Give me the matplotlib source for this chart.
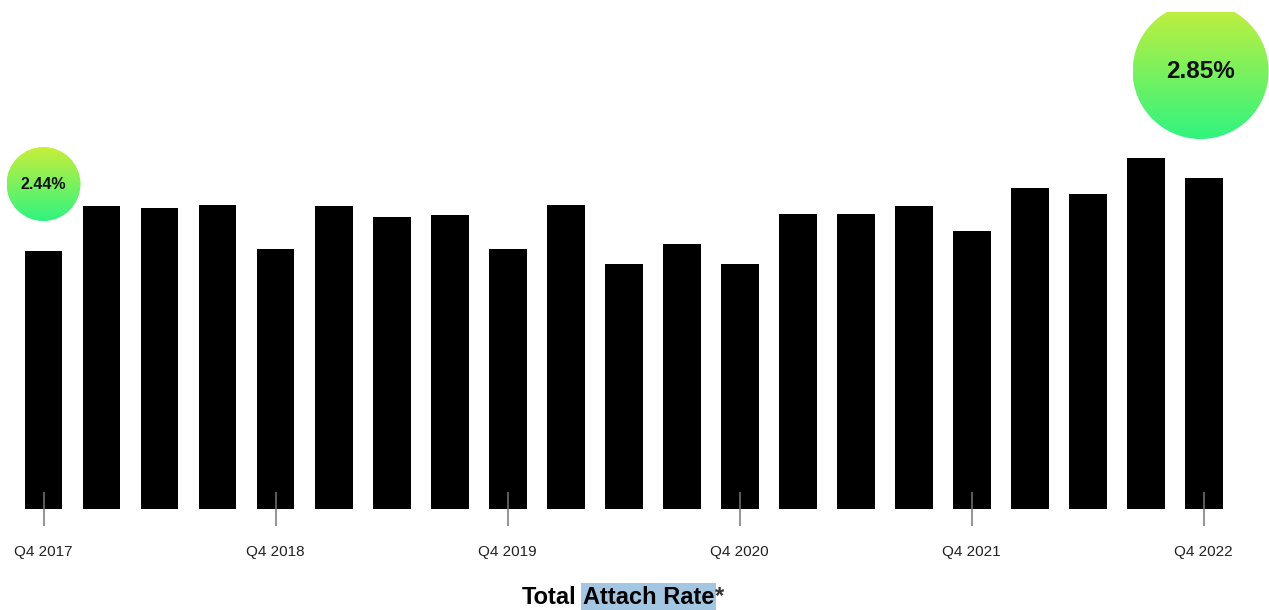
import numpy as np
import matplotlib
matplotlib.use("Agg")
import matplotlib.pyplot as plt
from matplotlib.patches import Circle

plt.rcParams['font.family'] = ['Liberation Sans', 'DejaVu Sans']

quarters = [f"Q{q} {y}" for y, q in
            [(2017, 4)] + [(y, q) for y in range(2018, 2022 + 1) for q in (1, 2, 3, 4)]]
attach_rate = [2.44, 2.69, 2.68, 2.70, 2.45, 2.69, 2.63, 2.64, 2.45, 2.70, 2.37,
               2.48, 2.37, 2.65, 2.65, 2.69, 2.55, 2.79, 2.76, 2.96, 2.85]
highlight_idx = [0, 20]
highlight_labels = ["2.44%", "2.85%"]
title_parts = ["Total", "Attach Rate", "*"]

W, H = 1269, 610
fig = plt.figure(figsize=(W / 100, H / 100), dpi=100)
ax_pos = [0, 101 / H, 1, 497 / H]
ax = fig.add_axes(ax_pos)

x = np.arange(len(quarters))
ax.bar(x, attach_rate, width=0.655, bottom=0, color='black', zorder=1)
ax.set_xlim(-0.75, 21.129)
ax.set_ylim(1.0, 1.0 + 497 * 0.005585)

ticks = [i for i, q in enumerate(quarters) if q.startswith("Q4")]
ax.set_xticks(ticks)
ax.set_xticklabels([quarters[i] for i in ticks], fontsize=11, color='#222222')
ax.tick_params(axis='x', direction='inout', length=24.5, width=1.1,
               color='#777777', pad=14)
ax.set_yticks([])
for s in ax.spines.values():
    s.set_visible(False)

# overlay for bubbles, in display pixel coordinates
ov = fig.add_axes(ax_pos)
ov.set_xlim(0, W)
ov.set_ylim(101, 598)
ov.axis('off')
ov.patch.set_alpha(0)

top_col = np.array([0xc8, 0xee, 0x3a]) / 255
bot_col = np.array([0x30, 0xf4, 0x80]) / 255
grad = np.linspace(0, 1, 256)[:, None, None]
img = top_col[None, None, :] * (1 - grad) + bot_col[None, None, :] * grad

fig.canvas.draw()
bubble_specs = [(0.0, 0.375, 37, 11.5), (-0.05, 0.596, 68, 17.5)]
for (idx, lab, (dx, dy, r, fs)) in zip(highlight_idx, highlight_labels, bubble_specs):
    cx, cy = ax.transData.transform((idx + dx, attach_rate[idx] + dy))
    circ = Circle((cx, cy), r, facecolor='none', edgecolor='none', transform=ov.transData)
    ov.add_patch(circ)
    im = ov.imshow(img, extent=(cx - r, cx + r, cy - r, cy + r), aspect='auto',
                   origin='upper', zorder=3)
    im.set_clip_path(circ)
    ov.text(cx, cy, lab, ha='center', va='center', fontsize=fs,
            fontweight='bold', color='#111111', zorder=4)
ov.set_xlim(0, W)
ov.set_ylim(101, 598)

# title with highlighted segment
ty = 13 / H
t1 = fig.text(522 / W, ty, title_parts[0], fontsize=17, fontweight='bold',
              ha='left', va='center', color='black')
t2 = fig.text(0, 0, title_parts[1], fontsize=17, fontweight='bold', color='black')
fig.canvas.draw()
bb1 = t1.get_window_extent()
t2.set_position(((bb1.x1 + 6) / W, ty))
t2.set_va('center')
t2.set_bbox(dict(facecolor='#a3c6e2', edgecolor='none', pad=1.5))
fig.canvas.draw()
bb2 = t2.get_window_extent()
fig.text((bb2.x1 + 1) / W, ty, title_parts[2], fontsize=17, fontweight='bold',
         ha='left', va='center', color='#333333')

fig.savefig("out.png", dpi=100, facecolor='white')
